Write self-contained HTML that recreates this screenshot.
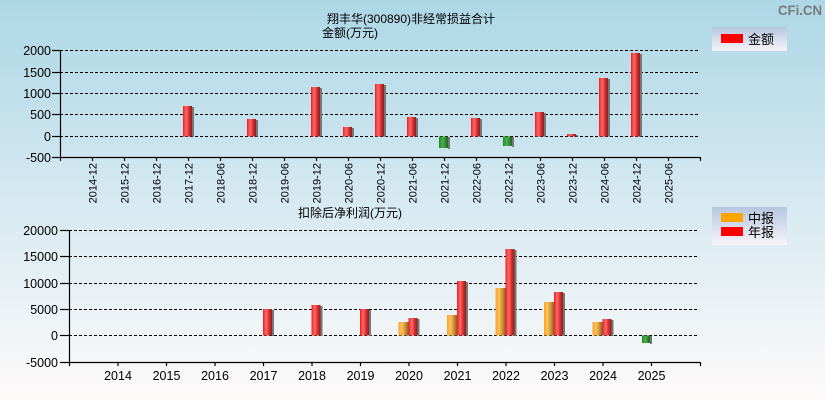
<!DOCTYPE html>
<html><head><meta charset="utf-8"><style>
html,body{margin:0;padding:0;width:825px;height:400px;overflow:hidden}
svg{display:block}
text{font-family:"Liberation Sans","Noto Sans CJK SC",sans-serif;fill:#000}
</style></head><body>
<svg width="825" height="400" xmlns="http://www.w3.org/2000/svg">
<defs>
<linearGradient id="bg" x1="0" y1="0" x2="0" y2="1">
<stop offset="0" stop-color="#add7e6"/>
<stop offset="0.5" stop-color="#d6e9f1"/>
<stop offset="1" stop-color="#fefafa"/>
</linearGradient>
<linearGradient id="leg" x1="0" y1="0" x2="0" y2="1">
<stop offset="0" stop-color="#b6c6e0"/>
<stop offset="1" stop-color="#f7f4f8"/>
</linearGradient>
<linearGradient id="red" x1="0" y1="0" x2="1" y2="0">
<stop offset="0" stop-color="#f01c1c"/>
<stop offset="0.35" stop-color="#ff6a6a"/>
<stop offset="0.7" stop-color="#d82a2a"/>
<stop offset="1" stop-color="#7a2424"/>
</linearGradient>
<linearGradient id="grn" x1="0" y1="0" x2="1" y2="0">
<stop offset="0" stop-color="#1e8a24"/>
<stop offset="0.4" stop-color="#4cb04c"/>
<stop offset="0.75" stop-color="#2a8a2a"/>
<stop offset="1" stop-color="#2a5a2a"/>
</linearGradient>
<linearGradient id="org" x1="0" y1="0" x2="1" y2="0">
<stop offset="0" stop-color="#f8a420"/>
<stop offset="0.35" stop-color="#ffc060"/>
<stop offset="0.7" stop-color="#d09030"/>
<stop offset="1" stop-color="#806030"/>
</linearGradient>
</defs>
<rect width="825" height="400" fill="url(#bg)"/>

<text x="778" y="15" font-size="14" font-weight="bold" textLength="44" lengthAdjust="spacingAndGlyphs" style="fill:#7a7a7a">CFi.CN</text>

<!-- TOP CHART -->
<text x="411" y="23" font-size="12" text-anchor="middle">翔丰华(300890)非经常损益合计</text>
<text x="322" y="37" font-size="12">金额(万元)</text>

<g stroke="#000" stroke-width="1" stroke-dasharray="3,2" fill="none">
<line x1="60" y1="50.5" x2="699" y2="50.5"/>
<line x1="60" y1="72.5" x2="699" y2="72.5"/>
<line x1="60" y1="93.5" x2="699" y2="93.5"/>
<line x1="60" y1="114.5" x2="699" y2="114.5"/>
<line x1="60" y1="136.5" x2="699" y2="136.5"/>
</g>
<g stroke="#000" stroke-width="1.2" fill="none">
<line x1="60.5" y1="50" x2="60.5" y2="161"/>
<line x1="60" y1="157.5" x2="700" y2="157.5"/>
<line x1="52" y1="50.5" x2="60" y2="50.5"/>
<line x1="52" y1="72.5" x2="60" y2="72.5"/>
<line x1="52" y1="93.5" x2="60" y2="93.5"/>
<line x1="52" y1="114.5" x2="60" y2="114.5"/>
<line x1="52" y1="136.5" x2="60" y2="136.5"/>
<line x1="52" y1="157.5" x2="60" y2="157.5"/>
<line x1="700.5" y1="157" x2="700.5" y2="161"/>
<line x1="92.5" y1="157" x2="92.5" y2="161"/><line x1="124.5" y1="157" x2="124.5" y2="161"/>
<line x1="156.5" y1="157" x2="156.5" y2="161"/><line x1="188.5" y1="157" x2="188.5" y2="161"/>
<line x1="220.5" y1="157" x2="220.5" y2="161"/><line x1="252.5" y1="157" x2="252.5" y2="161"/>
<line x1="284.5" y1="157" x2="284.5" y2="161"/><line x1="316.5" y1="157" x2="316.5" y2="161"/>
<line x1="348.5" y1="157" x2="348.5" y2="161"/><line x1="380.5" y1="157" x2="380.5" y2="161"/>
<line x1="412.5" y1="157" x2="412.5" y2="161"/><line x1="444.5" y1="157" x2="444.5" y2="161"/>
<line x1="476.5" y1="157" x2="476.5" y2="161"/><line x1="508.5" y1="157" x2="508.5" y2="161"/>
<line x1="540.5" y1="157" x2="540.5" y2="161"/><line x1="572.5" y1="157" x2="572.5" y2="161"/>
<line x1="604.5" y1="157" x2="604.5" y2="161"/><line x1="636.5" y1="157" x2="636.5" y2="161"/>
<line x1="668.5" y1="157" x2="668.5" y2="161"/>
</g>
<g font-size="12.5" text-anchor="end">
<text x="51" y="55">2000</text>
<text x="51" y="77">1500</text>
<text x="51" y="98">1000</text>
<text x="51" y="119">500</text>
<text x="51" y="141">0</text>
<text x="51" y="162">-500</text>
</g>
<g font-size="11" text-anchor="end">
<text transform="translate(96.5,163) rotate(-90)">2014-12</text>
<text transform="translate(128.5,163) rotate(-90)">2015-12</text>
<text transform="translate(160.5,163) rotate(-90)">2016-12</text>
<text transform="translate(192.5,163) rotate(-90)">2017-12</text>
<text transform="translate(224.5,163) rotate(-90)">2018-06</text>
<text transform="translate(256.5,163) rotate(-90)">2018-12</text>
<text transform="translate(288.5,163) rotate(-90)">2019-06</text>
<text transform="translate(320.5,163) rotate(-90)">2019-12</text>
<text transform="translate(352.5,163) rotate(-90)">2020-06</text>
<text transform="translate(384.5,163) rotate(-90)">2020-12</text>
<text transform="translate(416.5,163) rotate(-90)">2021-06</text>
<text transform="translate(448.5,163) rotate(-90)">2021-12</text>
<text transform="translate(480.5,163) rotate(-90)">2022-06</text>
<text transform="translate(512.5,163) rotate(-90)">2022-12</text>
<text transform="translate(544.5,163) rotate(-90)">2023-06</text>
<text transform="translate(576.5,163) rotate(-90)">2023-12</text>
<text transform="translate(608.5,163) rotate(-90)">2024-06</text>
<text transform="translate(640.5,163) rotate(-90)">2024-12</text>
<text transform="translate(672.5,163) rotate(-90)">2025-06</text>
</g>
<g>
<rect x="192" y="107" width="2" height="29.5" fill="#777"/><rect x="183" y="106" width="9" height="30.5" fill="url(#red)"/>
<rect x="256" y="120" width="2" height="16.5" fill="#777"/><rect x="247" y="119" width="9" height="17.5" fill="url(#red)"/>
<rect x="320" y="88" width="2" height="48.5" fill="#777"/><rect x="311" y="87" width="9" height="49.5" fill="url(#red)"/>
<rect x="352" y="128" width="2" height="8.5" fill="#777"/><rect x="343" y="127" width="9" height="9.5" fill="url(#red)"/>
<rect x="384" y="85" width="2" height="51.5" fill="#777"/><rect x="375" y="84" width="9" height="52.5" fill="url(#red)"/>
<rect x="416" y="118" width="2" height="18.5" fill="#777"/><rect x="407" y="117" width="9" height="19.5" fill="url(#red)"/>
<rect x="448" y="137" width="2" height="12" fill="#777"/><rect x="439" y="136.5" width="9" height="11.5" fill="url(#grn)"/>
<rect x="480" y="119" width="2" height="17.5" fill="#777"/><rect x="471" y="118" width="9" height="18.5" fill="url(#red)"/>
<rect x="512" y="137" width="2" height="10" fill="#777"/><rect x="503" y="136.5" width="9" height="9.5" fill="url(#grn)"/>
<rect x="544" y="113" width="2" height="23.5" fill="#777"/><rect x="535" y="112" width="9" height="24.5" fill="url(#red)"/>
<rect x="576" y="135" width="2" height="1.5" fill="#777"/><rect x="567" y="134" width="9" height="2.5" fill="url(#red)"/>
<rect x="608" y="79" width="2" height="57.5" fill="#777"/><rect x="599" y="78" width="9" height="58.5" fill="url(#red)"/>
<rect x="640" y="54" width="2" height="82.5" fill="#777"/><rect x="631" y="53" width="9" height="83.5" fill="url(#red)"/>
</g>
<rect x="712" y="27" width="75" height="24" fill="url(#leg)"/>
<rect x="721" y="34" width="22" height="9" fill="#ff0000"/>
<text x="748" y="44" font-size="13">金额</text>

<!-- BOTTOM CHART -->
<text x="298" y="217" font-size="12">扣除后净利润(万元)</text>
<g stroke="#000" stroke-width="1" stroke-dasharray="3,2" fill="none">
<line x1="69" y1="230.5" x2="699" y2="230.5"/>
<line x1="69" y1="256.5" x2="699" y2="256.5"/>
<line x1="69" y1="283.5" x2="699" y2="283.5"/>
<line x1="69" y1="309.5" x2="699" y2="309.5"/>
<line x1="69" y1="335.5" x2="699" y2="335.5"/>
</g>
<g stroke="#000" stroke-width="1.2" fill="none">
<line x1="69.5" y1="230" x2="69.5" y2="366"/>
<line x1="69" y1="362.5" x2="700" y2="362.5"/>
<line x1="60" y1="230.5" x2="69" y2="230.5"/>
<line x1="60" y1="256.5" x2="69" y2="256.5"/>
<line x1="60" y1="283.5" x2="69" y2="283.5"/>
<line x1="60" y1="309.5" x2="69" y2="309.5"/>
<line x1="60" y1="335.5" x2="69" y2="335.5"/>
<line x1="60" y1="362.5" x2="69" y2="362.5"/>
<line x1="700.5" y1="362" x2="700.5" y2="366"/>
<line x1="118" y1="362" x2="118" y2="366"/><line x1="166.5" y1="362" x2="166.5" y2="366"/>
<line x1="215" y1="362" x2="215" y2="366"/><line x1="263.5" y1="362" x2="263.5" y2="366"/>
<line x1="312" y1="362" x2="312" y2="366"/><line x1="360.5" y1="362" x2="360.5" y2="366"/>
<line x1="409" y1="362" x2="409" y2="366"/><line x1="457.5" y1="362" x2="457.5" y2="366"/>
<line x1="506" y1="362" x2="506" y2="366"/><line x1="554.5" y1="362" x2="554.5" y2="366"/>
<line x1="603" y1="362" x2="603" y2="366"/><line x1="651.5" y1="362" x2="651.5" y2="366"/>
</g>
<g font-size="12.5" text-anchor="end">
<text x="58" y="235">20000</text>
<text x="58" y="261">15000</text>
<text x="58" y="288">10000</text>
<text x="58" y="314">5000</text>
<text x="58" y="340">0</text>
<text x="58" y="367">-5000</text>
</g>
<g font-size="12.5" text-anchor="middle">
<text x="118" y="380">2014</text>
<text x="166.5" y="380">2015</text>
<text x="215" y="380">2016</text>
<text x="263.5" y="380">2017</text>
<text x="312" y="380">2018</text>
<text x="360.5" y="380">2019</text>
<text x="409" y="380">2020</text>
<text x="457.5" y="380">2021</text>
<text x="506" y="380">2022</text>
<text x="554.5" y="380">2023</text>
<text x="603" y="380">2024</text>
<text x="651.5" y="380">2025</text>
</g>
<g>
<rect x="272" y="310" width="2" height="26" fill="#777"/><rect x="263" y="309" width="9" height="26.5" fill="url(#red)"/>
<rect x="320.5" y="306" width="2" height="30" fill="#777"/><rect x="311.5" y="305" width="9" height="30.5" fill="url(#red)"/>
<rect x="369" y="310" width="2" height="26" fill="#777"/><rect x="360" y="309" width="9" height="26.5" fill="url(#red)"/>

<rect x="398.5" y="322" width="10" height="13.5" fill="url(#org)"/>
<rect x="417.5" y="319" width="2" height="17" fill="#777"/><rect x="408.5" y="318" width="9" height="17.5" fill="url(#red)"/>

<rect x="447" y="315" width="10" height="20.5" fill="url(#org)"/>
<rect x="466" y="282" width="2" height="54" fill="#777"/><rect x="457" y="281" width="9" height="54.5" fill="url(#red)"/>

<rect x="495.5" y="288" width="10" height="47.5" fill="url(#org)"/>
<rect x="514.5" y="250" width="2" height="86" fill="#777"/><rect x="505.5" y="249" width="9" height="86.5" fill="url(#red)"/>

<rect x="544" y="302" width="10" height="33.5" fill="url(#org)"/>
<rect x="563" y="293" width="2" height="43" fill="#777"/><rect x="554" y="292" width="9" height="43.5" fill="url(#red)"/>

<rect x="592.5" y="322" width="10" height="13.5" fill="url(#org)"/>
<rect x="611.5" y="320" width="2" height="16" fill="#777"/><rect x="602.5" y="319" width="9" height="16.5" fill="url(#red)"/>

<rect x="650" y="336" width="2" height="8" fill="#777"/><rect x="642" y="335.5" width="8" height="7.5" fill="url(#grn)"/>
</g>
<rect x="712" y="207" width="75" height="38" fill="url(#leg)"/>
<rect x="721" y="213" width="22" height="9" fill="#ffa500"/>
<rect x="721" y="227" width="22" height="9" fill="#ff0000"/>
<text x="748" y="223" font-size="13">中报</text>
<text x="748" y="237" font-size="13">年报</text>
</svg>
</body></html>
